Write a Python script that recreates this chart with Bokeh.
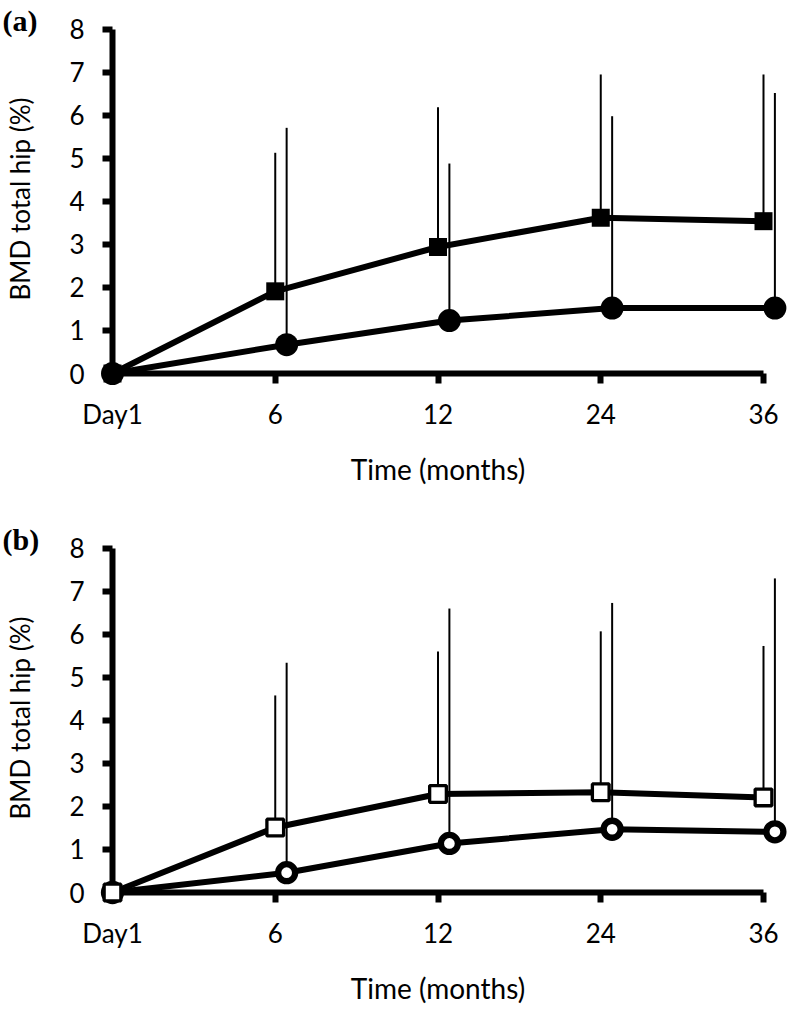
from bokeh.plotting import figure
from bokeh.models import Range1d, FixedTicker, LinearAxis
from bokeh.layouts import column
from bokeh.embed import file_html
from bokeh.resources import INLINE
from bokeh.core.properties import value

# ---------------- data ----------------
categories = ["Day1", "6", "12", "24", "36"]
y_ticks = [0, 1, 2, 3, 4, 5, 6, 7, 8]
x_title = "Time (months)"
y_title = "BMD total hip (%)"

a_square_mean = [0.0, 1.91, 2.94, 3.62, 3.54]
a_square_sd = [0.0, 3.22, 3.25, 3.33, 3.41]
a_circle_mean = [0.0, 0.67, 1.23, 1.52, 1.52]
a_circle_sd = [0.0, 5.04, 3.65, 4.46, 5.00]

b_square_mean = [0.0, 1.51, 2.29, 2.33, 2.21]
b_square_sd = [0.0, 3.07, 3.31, 3.74, 3.52]
b_circle_mean = [0.0, 0.46, 1.14, 1.47, 1.41]
b_circle_sd = [0.0, 4.88, 5.46, 5.26, 5.89]

# ---------------- layout constants ----------------
W = 789
FRAME_LEFT = 112          # y axis line position (px)
FRAME_RIGHT = 763         # x position of the last category (px)
FRAME_TOP = 24
FRAME_BOTTOM = 373        # x axis line position (px, from figure top)
Y8_PX = 28.8              # pixel row of the "8" tick
CIRCLE_OFFSET = 0.07      # horizontal shift of the circle series (categories)

SCALE_X = (FRAME_RIGHT - FRAME_LEFT) / 4.0
x_end = (FRAME_RIGHT - FRAME_LEFT) / SCALE_X
SCALE_Y = (FRAME_BOTTOM - Y8_PX) / 8.0
y_end = (FRAME_BOTTOM - FRAME_TOP) / SCALE_Y

FONT = "Lato"
TICK_SIZE = "26px"
XTITLE_SIZE = "28px"
YTITLE_SIZE = "26px"


def make_panel(tag, sq_mean, sq_sd, ci_mean, ci_sd, filled, height):
    p = figure(width=W, height=height, output_backend="svg", toolbar_location=None,
               x_axis_type=None, y_axis_type=None,
               x_range=Range1d(0, x_end), y_range=Range1d(0, y_end),
               min_border_left=FRAME_LEFT, min_border_right=W - FRAME_RIGHT,
               min_border_top=FRAME_TOP, min_border_bottom=height - FRAME_BOTTOM)
    p.outline_line_color = None
    p.xgrid.visible = False
    p.ygrid.visible = False
    p.background_fill_color = "white"
    p.border_fill_color = "white"

    n = len(categories)
    xs_sq = list(range(n))
    xs_ci = [i + (CIRCLE_OFFSET if i > 0 else 0.0) for i in range(n)]
    sq_top = [m + s for m, s in zip(sq_mean, sq_sd)]
    ci_top = [m + s for m, s in zip(ci_mean, ci_sd)]

    # error bars (upper only)
    p.segment(x0=xs_sq[1:], y0=sq_mean[1:], x1=xs_sq[1:], y1=sq_top[1:],
              line_width=2, line_color="black", level="overlay")
    p.segment(x0=xs_ci[1:], y0=ci_mean[1:], x1=xs_ci[1:], y1=ci_top[1:],
              line_width=2, line_color="black", level="overlay")

    # connecting lines
    p.line(xs_sq, sq_mean, line_width=6, line_color="black", level="overlay")
    p.line(xs_ci, ci_mean, line_width=6, line_color="black", level="overlay")

    # axes
    xaxis = LinearAxis(bounds=(0, n - 1),
                       ticker=FixedTicker(ticks=list(range(n)), minor_ticks=[]),
                       major_label_overrides={i: c for i, c in enumerate(categories)},
                       axis_label=x_title)
    yaxis = LinearAxis(bounds=(0, 8),
                       ticker=FixedTicker(ticks=y_ticks, minor_ticks=[]),
                       axis_label=y_title)
    for ax in (xaxis, yaxis):
        ax.axis_line_width = 6
        ax.axis_line_color = "black"
        ax.major_tick_line_width = 6
        ax.major_tick_line_color = "black"
        ax.major_tick_out = 10
        ax.major_tick_in = 0
        ax.minor_tick_line_color = None
        ax.major_label_text_font = FONT
        ax.major_label_text_font_size = TICK_SIZE
        ax.major_label_text_color = "black"
        ax.axis_label_text_font = FONT
        ax.axis_label_text_font_style = "normal"
        ax.axis_label_text_color = "black"
    xaxis.axis_label_text_font_size = XTITLE_SIZE
    yaxis.axis_label_text_font_size = YTITLE_SIZE
    xaxis.major_label_standoff = 14
    xaxis.axis_label_standoff = 19
    yaxis.major_label_standoff = 18
    yaxis.axis_label_standoff = 30
    p.add_layout(xaxis, "below")
    p.add_layout(yaxis, "left")

    # markers (on top of the axes, not clipped)
    if filled:
        p.scatter(xs_ci, ci_mean, marker="circle", size=23, fill_color="black",
                  line_color=None, level="overlay")
        p.scatter(xs_sq, sq_mean, marker="square", size=18, fill_color="black",
                  line_color=None, level="overlay")
    else:
        p.scatter(xs_ci, ci_mean, marker="circle", size=17, fill_color="white",
                  line_color="black", line_width=6.3, level="overlay")
        p.scatter(xs_sq, sq_mean, marker="square", size=16.7, fill_color="white",
                  line_color="black", line_width=3.3, level="overlay")

    # panel tag, top-left corner
    p.text(x=[(2 - FRAME_LEFT) / SCALE_X], y=[(FRAME_BOTTOM - 20) / SCALE_Y],
           text=[tag], text_font=value("Liberation Serif"), text_font_style="bold",
           text_font_size="30px", text_color="black",
           text_baseline="middle", text_align="left", level="overlay")
    return p


H_A = 519
H_B = 1012 - H_A
pa = make_panel("(a)", a_square_mean, a_square_sd, a_circle_mean, a_circle_sd, True, H_A)
pb = make_panel("(b)", b_square_mean, b_square_sd, b_circle_mean, b_circle_sd, False, H_B)

layout = column(pa, pb, spacing=0)
open("out.html", "w").write(file_html(layout, INLINE))
